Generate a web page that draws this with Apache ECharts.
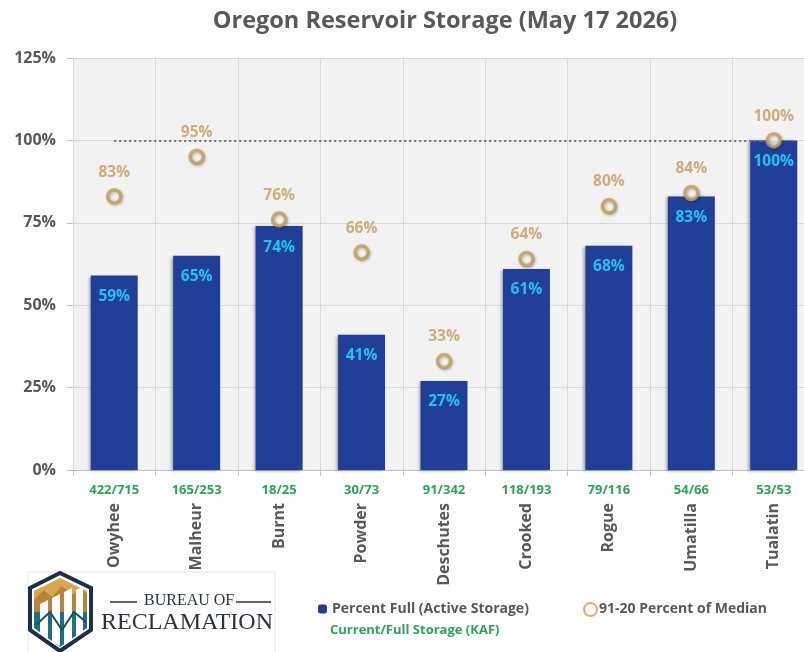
<!DOCTYPE html>
<html>
<head>
<meta charset="utf-8">
<script src="https://cdn.jsdelivr.net/npm/echarts@6/dist/echarts.min.js"></script>
<style>html,body{margin:0;padding:0;background:#fff}#c{width:804px;height:652px}</style>
</head>
<body>
<div id="c"></div>
<script>
const categories = ['Owyhee','Malheur','Burnt','Powder','Deschutes','Crooked','Rogue','Umatilla','Tualatin'];
const storageLabels = ['422/715','165/253','18/25','30/73','91/342','118/193','79/116','54/66','53/53'];
const percentFull = [59,65,74,41,27,61,68,83,100];
const percentOfMedian = [83,95,76,66,33,64,80,84,100];
const yMin = 0, yMax = 125, yStep = 25;

const FONT = 'Open Sans';
const GREY = '#595959';
const chart = echarts.init(document.getElementById('c'), null, {renderer:'canvas'});
chart.setOption({
  backgroundColor:'#ffffff',
  textStyle:{fontFamily:FONT},
  title:{text:'Oregon Reservoir Storage (May 17 2026)', left:440, textAlign:'center', top:4,
    textStyle:{fontFamily:FONT, fontSize:23.5, fontWeight:'bold', color:GREY}},
  grid:{left:73, top:58, width:742, bottom:182, show:true, backgroundColor:'#f2f2f2', borderWidth:0, outerBoundsMode:'none', containLabel:false},
  legend:[
    {data:['Percent Full (Active Storage)'], left:313, top:597, itemWidth:9, itemHeight:9, itemGap:4,
      textStyle:{fontFamily:FONT, fontSize:14, fontWeight:'bold', color:GREY}},
    {data:['91-20 Percent of Median'], left:578, top:597, itemWidth:13, itemHeight:13, itemGap:2,
      textStyle:{fontFamily:FONT, fontSize:14, fontWeight:'bold', color:GREY, padding:[0,0,0,-3]}}
  ],
  xAxis:[
    {type:'category', data:categories, boundaryGap:true,
      axisLine:{show:true, lineStyle:{color:'#bfbfbf'}},
      axisTick:{show:true, length:6, lineStyle:{color:'#bfbfbf'}},
      splitLine:{show:true, lineStyle:{color:'#d9d9d9'}},
      axisLabel:{margin:14, fontFamily:FONT, fontSize:13, fontWeight:'bold', color:'#2ea35c',
        formatter:(v, i)=>storageLabels[i]}},
    {type:'category', data:categories, position:'bottom', boundaryGap:true,
      axisLine:{show:false}, axisTick:{show:false}, splitLine:{show:false},
      axisLabel:{rotate:90, margin:33, fontFamily:FONT, fontSize:16, fontWeight:'bold', color:GREY}}
  ],
  yAxis:{type:'value', min:yMin, max:yMax, interval:yStep,
    axisLine:{show:false},
    axisTick:{show:true, length:6, lineStyle:{color:'#bfbfbf'}},
    splitLine:{lineStyle:{color:'#d9d9d9'}},
    axisLabel:{margin:17, formatter:'{value}%', fontFamily:FONT, fontSize:16, fontWeight:'bold', color:GREY}},
  series:[
    {name:'Percent Full (Active Storage)', type:'bar', data:percentFull, barWidth:'57%',
      itemStyle:{color:'#213f99', shadowBlur:3, shadowColor:'rgba(0,0,0,0.35)', shadowOffsetX:-2, shadowOffsetY:1},
      label:{show:true, position:'insideTop', distance:13, formatter:'{c}%', fontFamily:FONT, fontSize:15.5, fontWeight:'bold', color:'#22c3ef'},
      markLine:{silent:true, symbol:['none','none'], label:{show:false},
        lineStyle:{type:[2,3], color:'#6f6f6f', width:2},
        data:[[{coord:[categories[0],100]},{coord:[categories[categories.length-1],100]}]]},
      z:2},
    {name:'91-20 Percent of Median', type:'scatter', data:percentOfMedian, symbol:'circle', symbolSize:13,
      itemStyle:{color:'#ffffff', borderColor:'#c99b57', borderWidth:3.5, shadowBlur:3, shadowColor:'rgba(0,0,0,0.3)', shadowOffsetX:1, shadowOffsetY:1},
      label:{show:true, position:'top', distance:8, formatter:'{c}%', fontFamily:FONT, fontSize:15.5, fontWeight:'bold', color:'#c49a5e'},
      z:5}
  ],
  graphic:[
    {type:'text', left:330, top:624, style:{text:'Current/Full Storage (KAF)', fill:'#2ea35c', font:'bold 13px "Open Sans"'}},
    {type:'rect', shape:{x:28,y:572,width:247,height:82}, style:{fill:'none', stroke:'#e6e6e6', lineWidth:1}},
    // logo shield
    {type:'polygon', shape:{points:[[30,588],[60,573],[91,588],[91,630],[60,651],[30,630]]},
      style:{fill:'#ffffff', stroke:'#1e3045', lineWidth:4}},
    {type:'polygon', shape:{points:[[34,591],[60,578],[87,591],[87,612],[34,612]]}, style:{fill:'#d9a653'}},
    {type:'polygon', shape:{points:[[34,600],[44,590],[52,597],[62,586],[72,595],[80,588],[87,594],[87,612],[34,612]]}, style:{fill:'#b8833a'}},
    {type:'polygon', shape:{points:[[34,612],[87,612],[87,628],[60,647],[34,628]]}, style:{fill:'#1d6f86'}},
    {type:'polygon', shape:{points:[[40,604],[48,600],[48,640],[40,634]]}, style:{fill:'#ffffff'}},
    {type:'polygon', shape:{points:[[52,598],[60,594],[60,646],[52,642]]}, style:{fill:'#ffffff'}},
    {type:'polygon', shape:{points:[[64,592],[72,588],[72,640],[64,645]]}, style:{fill:'#ffffff'}},
    {type:'polygon', shape:{points:[[76,590],[83,586],[83,632],[76,637]]}, style:{fill:'#ffffff'}},
    {type:'polyline', shape:{points:[[36,625],[50,612],[62,630],[74,612],[86,622]]}, style:{stroke:'#17506a', lineWidth:2, fill:null}},
    {type:'line', shape:{x1:110,y1:602,x2:137,y2:602}, style:{stroke:'#2b3440', lineWidth:1.5}},
    {type:'line', shape:{x1:236,y1:602,x2:271,y2:602}, style:{stroke:'#2b3440', lineWidth:1.5}},
    {type:'text', left:144, top:593, style:{text:'BUREAU OF', fill:'#2b3440', font:'16px "Liberation Serif"'}},
    {type:'text', left:101, top:611, style:{text:'RECLAMATION', fill:'#2b3440', font:'24px "Liberation Serif"'}}
  ]
});
</script>
</body>
</html>
